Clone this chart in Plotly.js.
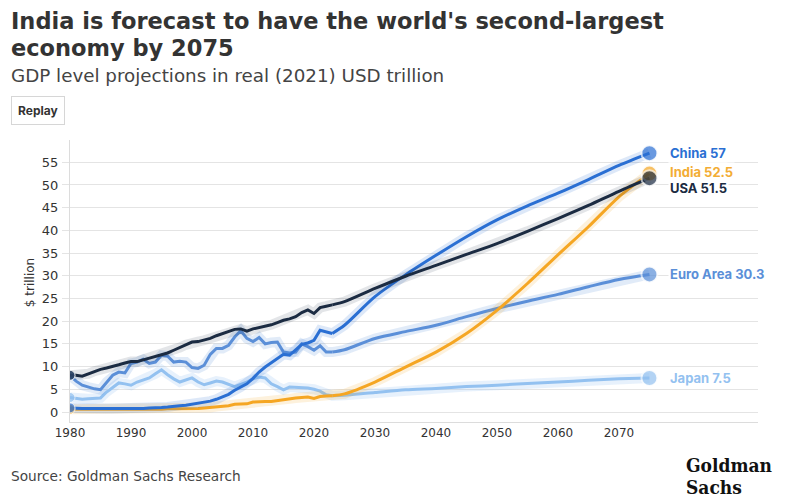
<!DOCTYPE html>
<html>
<head>
<meta charset="utf-8">
<script src="https://cdn.plot.ly/plotly-3.0.1.min.js"></script>
<style>html,body{margin:0;padding:0;background:#fff;}#chart{width:800px;height:500px;}</style>
</head>
<body>
<div id="chart"></div>
<script>
// ---- Data ----
const histYears = [1980,1981,1982,1983,1984,1985,1986,1987,1988,1989,1990,1991,1992,1993,1994,1995,1996,1997,1998,1999,2000,2001,2002,2003,2004,2005,2006,2007,2008,2009,2010,2011,2012,2013,2014,2015,2016,2017,2018,2019,2020,2021,2022,2023];
const projYears = [2025,2030,2035,2040,2045,2050,2055,2060,2065,2070,2075];

const chinaHist = [0.9,0.8,0.8,0.8,0.8,0.8,0.8,0.8,0.8,0.7,0.7,0.7,0.8,0.9,0.9,1.0,1.1,1.3,1.4,1.5,1.7,1.9,2.1,2.4,2.8,3.3,3.9,4.8,5.5,6.2,7.4,8.8,9.9,10.9,11.8,12.7,12.5,13.6,14.9,15.2,15.8,18.0,17.7,17.3];
const chinaProj = [19.1,25.4,30.2,34.5,38.6,42.3,45.4,48.2,51.2,54.3,57.0];

const indiaHist = [0.6,0.6,0.6,0.6,0.6,0.6,0.6,0.6,0.6,0.6,0.6,0.5,0.5,0.5,0.5,0.6,0.7,0.7,0.7,0.8,0.8,0.8,0.9,1.0,1.2,1.3,1.4,1.7,1.7,1.8,2.2,2.3,2.3,2.3,2.5,2.8,2.9,3.1,3.2,3.3,3.0,3.4,3.5,3.6];
const indiaProj = [4.0,6.6,9.9,13.2,17.3,22.4,28.3,34.6,40.8,47.4,52.5];

const usaHist = [8.1,8.1,7.9,8.4,9.0,9.4,9.7,10.0,10.4,10.8,11.1,11.1,11.5,11.8,12.2,12.6,13.0,13.6,14.2,14.8,15.4,15.5,15.8,16.2,16.8,17.3,17.8,18.2,18.3,17.8,18.3,18.6,18.9,19.2,19.7,20.2,20.5,21.0,21.9,22.5,21.7,23.0,23.3,23.6];
const usaProj = [24.3,27.2,29.9,32.3,34.7,37.1,39.8,42.6,45.5,48.6,51.5];

const euroHist = [8.0,6.8,5.9,5.5,5.1,4.9,6.6,8.1,8.8,8.6,10.7,11.0,11.6,10.7,11.0,12.5,12.3,11.0,11.2,11.0,9.8,9.6,10.3,12.7,14.0,14.0,14.7,16.5,17.9,16.2,15.5,16.4,15.0,15.3,15.4,13.2,13.0,13.2,15.0,14.4,13.6,14.6,13.2,13.2];
const euroProj = [13.7,16.2,17.7,19.1,21.0,22.8,24.4,25.9,27.6,29.2,30.3];

const japanHist = [3.2,3.0,2.8,2.9,3.0,3.1,4.4,5.5,6.4,6.2,5.9,6.6,7.1,7.5,8.4,9.3,8.2,7.3,6.6,7.1,7.5,6.6,6.0,6.4,6.8,6.6,6.1,5.6,6.1,6.6,7.3,7.7,7.5,6.2,5.6,4.9,5.5,5.4,5.4,5.3,5.0,4.6,3.8,3.6];
const japanProj = [3.7,4.3,4.9,5.2,5.6,5.9,6.3,6.6,7.0,7.3,7.5];

const seriesNames = ["Japan","Euro Area","India","China","USA"];
const seriesHist = [japanHist, euroHist, indiaHist, chinaHist, usaHist];
const seriesProj = [japanProj, euroProj, indiaProj, chinaProj, usaProj];
const seriesColors = ["#93c1f0","#5b8fd8","#f5a623","#2a6fd3","#1b2b42"];
const seriesHalo = ["rgba(147,193,240,0.22)","rgba(91,143,216,0.18)","rgba(245,166,35,0.16)","rgba(42,111,211,0.16)","rgba(27,43,66,0.12)"];
const xTicks = [1980,1990,2000,2010,2020,2030,2040,2050,2060,2070];
const yTicks = [0,5,10,15,20,25,30,35,40,45,50,55];

// ---- Layout helpers (pixel -> paper) ----
const L = 70, R = 42, T = 140, B = 78.3;
const W = 800 - L - R, H = 500 - T - B;
const px = p => (p - L) / W;
const py = p => (500 - B - p) / H;
const FONT = "Inter, 'Open Sans', sans-serif";
const WIDE = "'DejaVu Sans', Verdana, sans-serif";
const SERIF = "'DejaVu Serif Condensed', 'Liberation Serif', serif";

const traces = [];
const annotations = [];
seriesNames.forEach((name, i) => {
  const xs = histYears.concat(projYears);
  const hist = seriesHist[i];
  const proj = seriesProj[i];
  const ys = hist.concat(proj);
  // glow
  traces.push({x: xs, y: ys, type: "scatter", mode: "lines", hoverinfo: "skip",
    line: {color: seriesHalo[i], width: 10, shape: "linear"}, showlegend: false});
  // history line
  traces.push({x: histYears, y: hist, type: "scatter", mode: "lines", name: name,
    line: {color: seriesColors[i], width: 3}, showlegend: false});
  // projection line (smooth)
  traces.push({x: [histYears[histYears.length-1]].concat(projYears),
    y: [hist[hist.length-1]].concat(proj), type: "scatter", mode: "lines", name: name,
    line: {color: seriesColors[i], width: 3, shape: "spline", smoothing: 0.8}, showlegend: false});
});
// start / end markers drawn above all lines
seriesNames.forEach((name, i) => {
  const hist = seriesHist[i], proj = seriesProj[i];
  traces.push({x: [histYears[0], projYears[projYears.length-1]],
    y: [hist[0], proj[proj.length-1]], type: "scatter", mode: "markers", hoverinfo: "skip",
    marker: {color: seriesColors[i], size: [10, 16], line: {color: "rgba(255,255,255,0.9)", width: [1, 2]}},
    showlegend: false});
});

// end labels
seriesNames.forEach((name, i) => {
  const proj = seriesProj[i];
  const v = proj[proj.length-1];
  annotations.push({x: projYears[projYears.length-1], y: v, xref: "x", yref: "y",
    text: "<b>" + name + " " + v + "</b>", showarrow: false, xanchor: "left", yanchor: "middle",
    xshift: 19, yshift: (name === "India" ? 2 : name === "USA" ? -10 : 0),
    bgcolor: "#ffffff", borderpad: 1,
    font: {family: FONT, size: 13, color: name === "India" ? "#f3ad35" : seriesColors[i]}});
});

// titles and texts
annotations.push(
  {xref: "paper", yref: "paper", x: px(9), y: py(21), xanchor: "left", yanchor: "middle", showarrow: false,
   text: "<b>India is forecast to have the world's second-largest</b>", font: {family: WIDE, size: 22.5, color: "#333"}},
  {xref: "paper", yref: "paper", x: px(9), y: py(48), xanchor: "left", yanchor: "middle", showarrow: false,
   text: "<b>economy by 2075</b>", font: {family: WIDE, size: 22.5, color: "#333"}},
  {xref: "paper", yref: "paper", x: px(9), y: py(76), xanchor: "left", yanchor: "middle", showarrow: false,
   text: "GDP level projections in real (2021) USD trillion", font: {family: WIDE, size: 18.3, color: "#444"}},
  {xref: "paper", yref: "paper", x: px(11), y: py(111), xanchor: "left", yanchor: "middle", showarrow: false,
   text: "<b>Replay</b>", bgcolor: "#ffffff", bordercolor: "#d6d6d6", borderwidth: 1, borderpad: 6,
   font: {family: FONT, size: 12, color: "#333"}},
  {xref: "paper", yref: "paper", x: px(30), y: py(283), xanchor: "center", yanchor: "middle", showarrow: false,
   text: "$ trillion", textangle: -90, font: {family: WIDE, size: 12, color: "#333"}},
  {xref: "paper", yref: "paper", x: px(9), y: py(476), xanchor: "left", yanchor: "middle", showarrow: false,
   text: "Source: Goldman Sachs Research", font: {family: WIDE, size: 13.7, color: "#444"}},
  {xref: "paper", yref: "paper", x: px(684), y: py(465), xanchor: "left", yanchor: "middle", showarrow: false,
   text: "<b>Goldman</b>", font: {family: SERIF, size: 19, color: "#111"}},
  {xref: "paper", yref: "paper", x: px(684), y: py(487), xanchor: "left", yanchor: "middle", showarrow: false,
   text: "<b>Sachs</b>", font: {family: SERIF, size: 19, color: "#111"}}
);

const layout = {
  width: 800, height: 500,
  margin: {l: L, r: R, t: T, b: B, pad: 0},
  paper_bgcolor: "#ffffff", plot_bgcolor: "#ffffff",
  showlegend: false,
  xaxis: {range: [1980, 2092.8], tickvals: xTicks, ticktext: xTicks.map(String), showgrid: false,
    zeroline: false, showline: true, linecolor: "#dcdcdc", linewidth: 1, ticks: "",
    tickfont: {family: WIDE, size: 12, color: "#333"}, fixedrange: true},
  yaxis: {range: [-2.2, 59.9], tickvals: yTicks, ticktext: yTicks.map(String), showgrid: true,
    gridcolor: "#e4e4e4", gridwidth: 1, zeroline: false, showline: true, linecolor: "#dcdcdc",
    ticks: "outside", ticklen: 7, tickcolor: "#e4e4e4", ticklabelstandoff: 1,
    tickfont: {family: WIDE, size: 13, color: "#333"}, fixedrange: true},
  annotations: annotations,
  font: {family: FONT}
};

Plotly.newPlot("chart", traces, layout, {displayModeBar: false, staticPlot: true});
</script>
</body>
</html>
